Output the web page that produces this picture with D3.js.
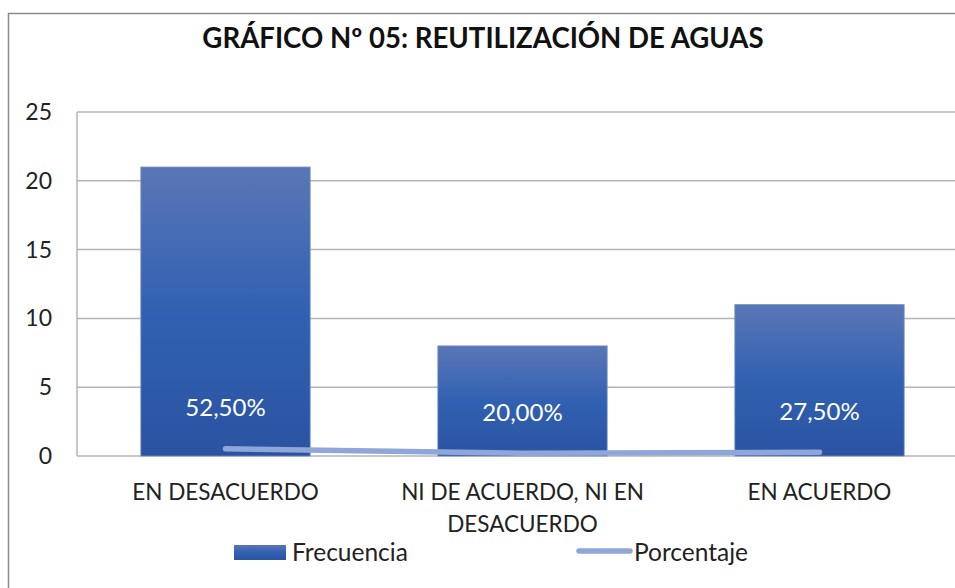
<!DOCTYPE html>
<html>
<head>
<meta charset="utf-8">
<script src="https://cdn.jsdelivr.net/npm/d3@7.9.0/dist/d3.min.js"></script>
<style>
  body { margin: 0; background: #fff; }
  svg { display: block; font-family: Lato, "Open Sans", sans-serif; }
</style>
</head>
<body>
<svg width="955" height="588"></svg>
<script>
// data
const categories = ["EN DESACUERDO", "NI DE ACUERDO, NI EN DESACUERDO", "EN ACUERDO"];
const categoryLines = [["EN DESACUERDO"], ["NI DE ACUERDO, NI EN", "DESACUERDO"], ["EN ACUERDO"]];
const frecuencia = [21, 8, 11];
const porcentaje = [0.525, 0.20, 0.275];
const porcentajeLabels = ["52,50%", "20,00%", "27,50%"];
const yTicks = [0, 5, 10, 15, 20, 25];

const svg = d3.select("svg");
const margin = { left: 77, top: 112, right: 968, bottom: 456 };

// gradient for bars
const defs = svg.append("defs");
const grad = defs.append("linearGradient")
    .attr("id", "barGrad")
    .attr("x1", 0).attr("y1", 0).attr("x2", 0).attr("y2", 1);
grad.append("stop").attr("offset", "0%").attr("stop-color", "#5a76b6");
grad.append("stop").attr("offset", "50%").attr("stop-color", "#3161b2");
grad.append("stop").attr("offset", "100%").attr("stop-color", "#2b53a2");

// outer frame
svg.append("rect")
    .attr("x", 8.5).attr("y", 13.5)
    .attr("width", 980).attr("height", 600)
    .attr("fill", "none").attr("stroke", "#8c8c8c").attr("stroke-width", 1.5);

let x = d3.scaleBand().domain(categories).range([margin.left, margin.right]).padding(0);
let y = d3.scaleLinear().domain([0, 25]).range([margin.bottom, margin.top]);

// gridlines
svg.append("g")
    .selectAll("line")
    .data(yTicks)
    .join("line")
    .attr("x1", margin.left).attr("x2", 955)
    .attr("y1", d => y(d)).attr("y2", d => y(d))
    .attr("stroke", "#b4b4b4").attr("stroke-width", 1.5);

// left axis line
svg.append("line")
    .attr("x1", margin.left).attr("x2", margin.left)
    .attr("y1", margin.top).attr("y2", margin.bottom)
    .attr("stroke", "#b4b4b4").attr("stroke-width", 1.5);

// y tick labels
svg.append("g")
    .selectAll("text")
    .data(yTicks)
    .join("text")
    .attr("x", 52)
    .attr("y", d => y(d))
    .attr("dy", "0.35em")
    .attr("text-anchor", "end")
    .attr("font-size", 23)
    .attr("fill", "#222")
    .text(d => d);

// bars
const barW = x.bandwidth() * 0.57;
svg.append("g")
    .selectAll("rect")
    .data(frecuencia)
    .join("rect")
    .attr("x", (d, i) => x(categories[i]) + x.bandwidth() / 2 - barW / 2)
    .attr("y", d => y(d))
    .attr("width", barW)
    .attr("height", d => y(0) - y(d))
    .attr("fill", "url(#barGrad)")
    .attr("stroke", "#6f8cc8").attr("stroke-width", 0.8);

// porcentaje line
const cx = i => x(categories[i]) + x.bandwidth() / 2;
const line = d3.line()
    .x((d, i) => cx(i))
    .y(d => y(d));
svg.append("path")
    .datum(porcentaje)
    .attr("d", line)
    .attr("fill", "none")
    .attr("stroke", "#8ea6d8")
    .attr("stroke-width", 5.5)
    .attr("stroke-linecap", "round")
    .attr("stroke-linejoin", "round");

// line data labels
svg.append("g")
    .selectAll("text")
    .data(porcentaje)
    .join("text")
    .attr("x", (d, i) => cx(i))
    .attr("y", d => y(d) - 41)
    .attr("dy", "0.35em")
    .attr("text-anchor", "middle")
    .attr("font-size", 24)
    .attr("fill", "#ffffff")
    .text((d, i) => porcentajeLabels[i]);

// x category labels
svg.append("g")
    .selectAll("text")
    .data(categoryLines)
    .join("text")
    .attr("text-anchor", "middle")
    .attr("font-size", 22.5)
    .attr("fill", "#222")
    .each(function (lines, i) {
        d3.select(this).selectAll("tspan")
            .data(lines)
            .join("tspan")
            .attr("x", cx(i))
            .attr("y", (l, j) => 500 + j * 32)
            .text(l => l);
    });

// title
svg.append("text")
    .attr("x", 483)
    .attr("y", 48)
    .attr("text-anchor", "middle")
    .attr("font-size", 27.6)
    .attr("font-weight", "bold")
    .attr("fill", "#111")
    .text("GRÁFICO Nº 05: REUTILIZACIÓN DE AGUAS");

// legend
const legend = svg.append("g");
legend.append("rect")
    .attr("x", 234).attr("y", 545).attr("width", 52).attr("height", 15)
    .attr("fill", "url(#barGrad)");
legend.append("text")
    .attr("x", 292).attr("y", 552).attr("dy", "0.35em")
    .attr("font-size", 24.5).attr("fill", "#222")
    .text("Frecuencia");
legend.append("line")
    .attr("x1", 579).attr("x2", 630).attr("y1", 551).attr("y2", 551)
    .attr("stroke", "#8ea6d8").attr("stroke-width", 5.5).attr("stroke-linecap", "round");
legend.append("text")
    .attr("x", 634).attr("y", 552).attr("dy", "0.35em")
    .attr("font-size", 24.5).attr("fill", "#222")
    .text("Porcentaje");
</script>
</body>
</html>
